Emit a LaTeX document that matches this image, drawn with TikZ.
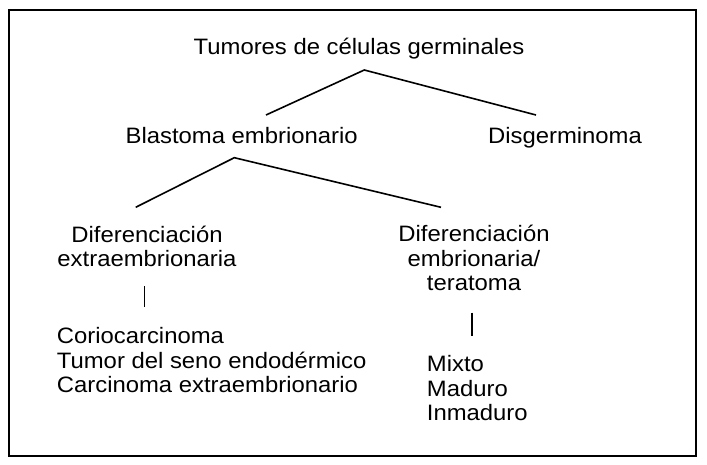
\documentclass[tikz,border=0pt]{standalone}
\usepackage{fontspec}
\setmainfont{Liberation Sans}[FakeStretch=1.07]
\usetikzlibrary{calc}
\begin{document}
\begin{tikzpicture}[x=1pt,y=1pt,
  lbl/.style={inner sep=0pt, font=\fontsize{22.3}{24.4}\selectfont},
  conn/.style={line width=1.6pt},
  frame/.style={line width=2pt}]
\useasboundingbox (0,0) rectangle (707,-465);
\draw[frame] (8.7,-10) rectangle (696.3,-456);
\node[lbl,anchor=base] (title) at (359,-54.3) {Tumores de células germinales};
\node[lbl,anchor=base] (blast) at (241.7,-144) {Blastoma embrionario};
\node[lbl,anchor=base] (disg) at (565,-143.5) {Disgerminoma};
\node[lbl,anchor=base,align=center] (dext) at (147,-266.7) {Diferenciación\\extraembrionaria};
\node[lbl,anchor=base,align=center] (demb) at (474,-290.5) {Diferenciación\\embrionaria/\\teratoma};
\node[lbl,anchor=base west,align=left] (list1) at (56.7,-392.7) {Coriocarcinoma\\Tumor del seno endodérmico\\Carcinoma extraembrionario};
\node[lbl,anchor=base west,align=left] (list2) at (426.7,-420.7) {Mixto\\Maduro\\Inmaduro};
\draw[conn] ($(blast.base)+(24.3,29)$) -- ($(title.base)+(5.3,-15.7)$) -- ($(disg.base)+(-29,28.5)$);
\draw[conn] ($(dext.base)+(-11.3,59.4)$) -- ($(blast.base)+(-7.4,-13.7)$) -- ($(demb.base)+(-33,83.2)$);
\draw[conn] ($(dext.base)+(-2.7,-19.3)$) -- ($(list1.base west)+(87.6,85.4)$);
\draw[conn] ($(demb.base)+(-2.3,-22.2)$) -- ($(list2.base west)+(45,84.7)$);
\end{tikzpicture}
\end{document}
